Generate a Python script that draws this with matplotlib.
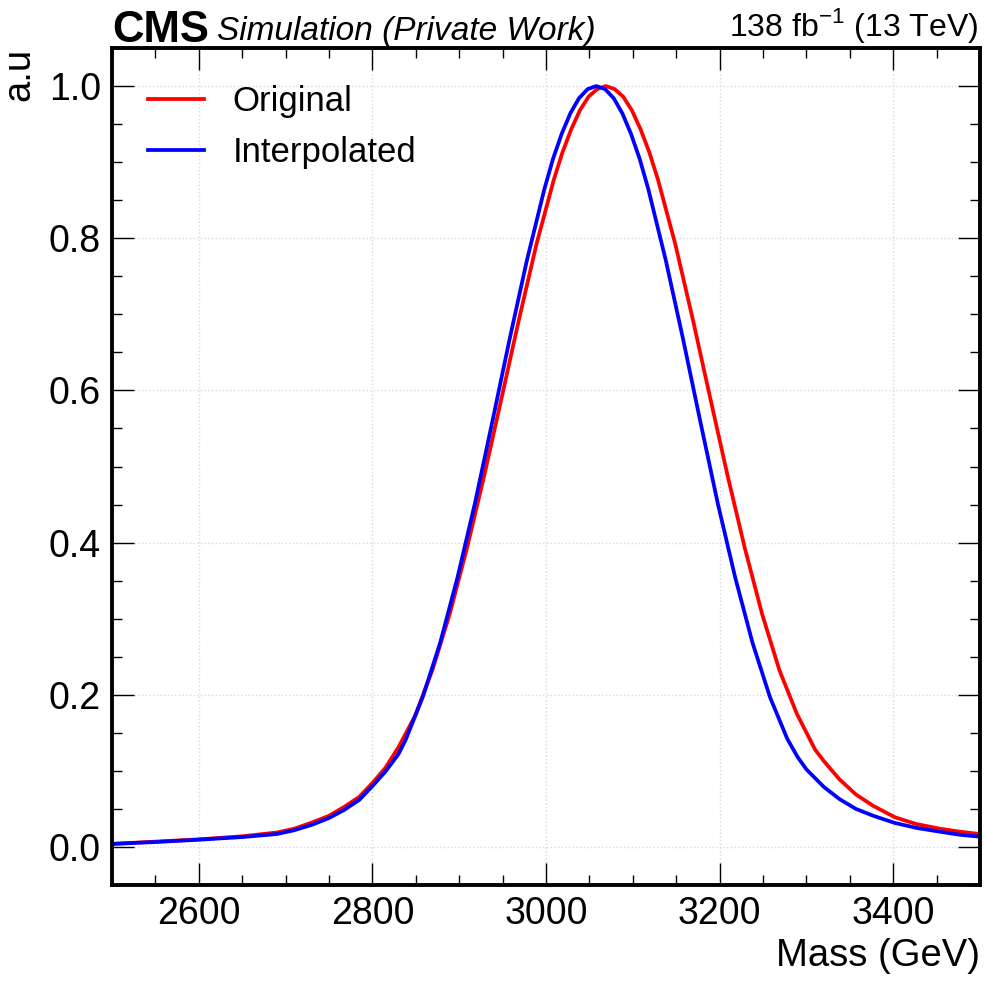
import matplotlib
matplotlib.use("Agg")
import matplotlib.pyplot as plt
from matplotlib.ticker import MultipleLocator

plt.rcParams["font.family"] = ["Liberation Sans", "DejaVu Sans"]
plt.rcParams["mathtext.fontset"] = "custom"
plt.rcParams["mathtext.rm"] = "Liberation Sans"
plt.rcParams["axes.unicode_minus"] = False

# values
orig_mass = [2500, 2550, 2600, 2650, 2690, 2710, 2730, 2750, 2768, 2785, 2800, 2815,
             2830, 2849, 2869, 2889, 2909, 2929, 2949, 2969, 2989, 3009, 3019, 3029,
             3039, 3049, 3059, 3069, 3079, 3089, 3099, 3109, 3119, 3129, 3149, 3169,
             3189, 3209, 3229, 3249, 3269, 3289, 3310, 3320, 3338, 3357, 3377, 3402,
             3427, 3454, 3477, 3500]
orig_val = [0.004, 0.007, 0.010, 0.014, 0.019, 0.024, 0.032, 0.041, 0.053, 0.066, 0.084, 0.104,
            0.131, 0.172, 0.232, 0.306, 0.393, 0.489, 0.591, 0.694, 0.792, 0.877, 0.913, 0.943,
            0.968, 0.986, 0.996, 1.000, 0.996, 0.986, 0.968, 0.943, 0.913, 0.877, 0.792, 0.694,
            0.591, 0.489, 0.393, 0.306, 0.232, 0.175, 0.128, 0.113, 0.089, 0.069, 0.054, 0.039,
            0.030, 0.024, 0.020, 0.017]

interp_mass = [2500, 2550, 2600, 2650, 2690, 2710, 2730, 2750, 2768, 2785, 2800, 2815,
               2830, 2838, 2858, 2878, 2898, 2918, 2938, 2958, 2978, 2998, 3008, 3018,
               3028, 3038, 3048, 3058, 3068, 3078, 3088, 3098, 3108, 3118, 3138, 3158,
               3178, 3198, 3218, 3238, 3258, 3278, 3290, 3300, 3320, 3338, 3357, 3377,
               3402, 3427, 3454, 3477, 3500]
interp_val = [0.004, 0.0065, 0.0095, 0.013, 0.017, 0.022, 0.029, 0.038, 0.049, 0.062, 0.080, 0.099,
              0.122, 0.140, 0.197, 0.268, 0.354, 0.451, 0.558, 0.667, 0.771, 0.864, 0.904, 0.937,
              0.964, 0.984, 0.996, 1.000, 0.996, 0.984, 0.964, 0.937, 0.904, 0.864, 0.771, 0.667,
              0.558, 0.451, 0.354, 0.268, 0.197, 0.142, 0.118, 0.102, 0.079, 0.063, 0.050, 0.041,
              0.0315, 0.025, 0.020, 0.016, 0.0135]

fig = plt.figure(figsize=(9.84, 9.83), dpi=100)
ax = fig.add_axes([112 / 984, 98 / 983, 868 / 984, 837 / 983])

ax.plot(orig_mass, orig_val, color="red", lw=2.7, label="Original")
ax.plot(interp_mass, interp_val, color="blue", lw=2.7, label="Interpolated")

ax.set_xlim(2500, 3500)
ax.set_ylim(-0.05, 1.05)
ax.xaxis.set_major_locator(MultipleLocator(200))
ax.xaxis.set_minor_locator(MultipleLocator(50))
ax.yaxis.set_major_locator(MultipleLocator(0.2))
ax.yaxis.set_minor_locator(MultipleLocator(0.05))
ax.yaxis.set_major_formatter(lambda v, _: f"{v:.1f}")

ax.tick_params(which="both", direction="in", top=True, right=True, labelsize=27)
ax.tick_params(which="major", length=15.5, width=1.0, pad=8)
ax.tick_params(which="minor", length=7.2, width=1.0)
for s in ax.spines.values():
    s.set_linewidth(2.8)
ax.grid(True, which="major", linestyle=":", color="#d8d8d8", linewidth=1.0)

ax.set_xlabel("Mass (GeV)", loc="right", fontsize=27.5)
ax.set_ylabel("a.u", loc="top", fontsize=27.5, labelpad=8)

ax.legend(loc="upper left", fontsize=25, frameon=False, handlelength=1.61,
          handletextpad=0.83, borderaxespad=0.3, labelspacing=0.52,
          bbox_to_anchor=(0.0135, 0.985))

# header texts, baseline just above the top spine
ax.text(0.0, 1.0072, "CMS", transform=ax.transAxes, fontsize=31.5, fontweight="bold",
        ha="left", va="baseline")
ax.text(0.121, 1.0095, "Simulation (Private Work)", transform=ax.transAxes, fontsize=24,
        style="italic", ha="left", va="baseline")
ax.text(0.998, 1.0143, "138 fb$^{-1}$ (13 TeV)", transform=ax.transAxes, fontsize=23,
        ha="right", va="baseline")

fig.savefig("out.png", dpi=100)
